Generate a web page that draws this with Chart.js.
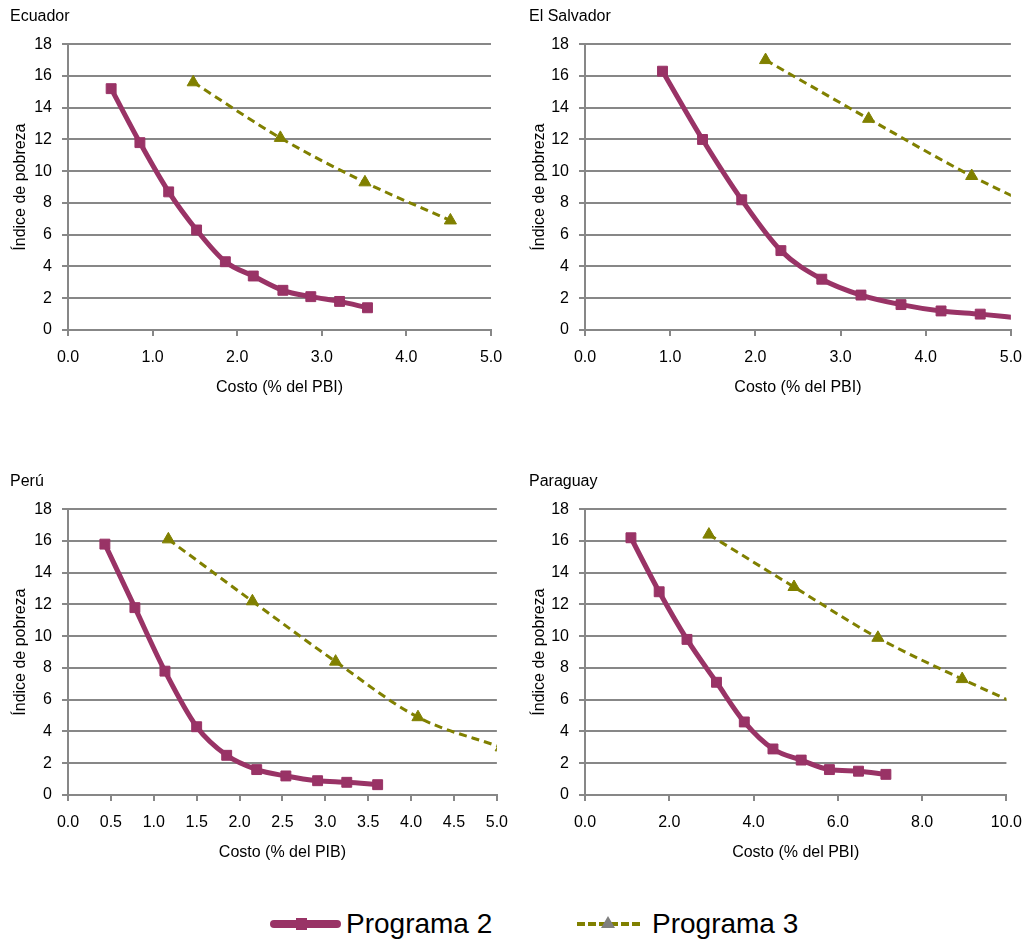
<!DOCTYPE html>
<html>
<head>
<meta charset="utf-8">
<script src="https://cdn.jsdelivr.net/npm/chart.js@4.4.1/dist/chart.umd.min.js"></script>
<style>
  body { margin: 0; background: #fff; width: 1036px; height: 944px; overflow: hidden; position: relative;
         font-family: 'Liberation Sans', Arial, sans-serif; }
  canvas { position: absolute; }
  .legend { position: absolute; top: 905px; left: 0; height: 38px; font-size: 28px; color: #000; }
  .item { position: absolute; top: 0; height: 38px; line-height: 38px; white-space: nowrap; }
  .p2line { position: absolute; top: 15px; height: 8px; border-radius: 4px; background: #993366; }
  .p2mark { position: absolute; top: 13px; width: 11px; height: 12px; background: #993366; }
  .p3line { position: absolute; top: 17px; height: 0; border-top: 4px dashed #808000; }
  .p3mark { position: absolute; top: 11px; width: 0; height: 0; border-left: 7px solid transparent;
            border-right: 7px solid transparent; border-bottom: 12px solid #7f7f7f; }
</style>
</head>
<body>
<canvas id="ecuador" width="510" height="420" style="left:10px;top:0px"></canvas>
<canvas id="salvador" width="505" height="420" style="left:529px;top:0px"></canvas>
<canvas id="peru" width="510" height="420" style="left:10px;top:465px"></canvas>
<canvas id="paraguay" width="505" height="420" style="left:529px;top:465px"></canvas>

<div class="legend">
  <div class="p2line" style="left:270px;width:71px"></div>
  <div class="p2mark" style="left:296px"></div>
  <div class="item" style="left:346px">Programa 2</div>
  <div class="p3line" style="left:577px;width:63px"></div>
  <div class="p3mark" style="left:601px"></div>
  <div class="item" style="left:652px">Programa 3</div>
</div>

<script>
'use strict'

// y axis ticks shared by all four panels
const yTicks = [0, 2, 4, 6, 8, 10, 12, 14, 16, 18]

// x axis tick labels
const xTicksUnit = [0, 1, 2, 3, 4, 5]
const xTicksHalf = [0, 0.5, 1, 1.5, 2, 2.5, 3, 3.5, 4, 4.5, 5]
const xTicksTwo = [0, 2, 4, 6, 8, 10]

// ECUADOR
const ecuP2x = [0.51, 0.85, 1.19, 1.52, 1.86, 2.19, 2.54, 2.87, 3.21, 3.54]
const ecuP2y = [15.2, 11.8, 8.7, 6.3, 4.3, 3.4, 2.5, 2.1, 1.8, 1.4]
const ecuP3x = [1.48, 2.51, 3.51, 4.52]
const ecuP3y = [15.6, 12.1, 9.3, 6.9]

// EL SALVADOR
const slvP2x = [0.91, 1.38, 1.84, 2.30, 2.78, 3.24, 3.71, 4.18, 4.64, 5.11]
const slvP2y = [16.3, 12.0, 8.2, 5.0, 3.2, 2.2, 1.6, 1.2, 1.0, 0.75]
const slvP3x = [2.12, 3.33, 4.54, 5.75]
const slvP3y = [17.0, 13.3, 9.7, 6.6]

// PERU
const perP2x = [0.43, 0.78, 1.13, 1.50, 1.85, 2.20, 2.54, 2.91, 3.25, 3.61]
const perP2y = [15.8, 11.8, 7.8, 4.3, 2.5, 1.6, 1.2, 0.9, 0.8, 0.65]
const perP3x = [1.17, 2.15, 3.12, 4.08, 5.05]
const perP3y = [16.1, 12.2, 8.4, 4.9, 3.0]

// PARAGUAY
const parP2x = [1.09, 1.76, 2.42, 3.12, 3.78, 4.46, 5.13, 5.80, 6.49, 7.14]
const parP2y = [16.2, 12.8, 9.8, 7.1, 4.6, 2.9, 2.2, 1.6, 1.5, 1.3]
const parP3x = [2.94, 4.96, 6.95, 8.95, 10.95]
const parP3y = [16.4, 13.1, 9.9, 7.3, 4.9]

const purple = '#993366'
const olive = '#808000'
const gridGrey = '#878787'
const font = { family: "'Liberation Sans', Arial, sans-serif", size: 16, weight: 'normal' }

const toPoints = (xs, ys) => xs.map((x, i) => ({ x: x, y: ys[i] }))

function makeChart(id, title, xTitle, xTicks, p2x, p2y, p3x, p3y, yAxisW, padRight) {
  new Chart(document.getElementById(id), {
    type: 'line',
    data: {
      datasets: [
        {
          label: 'Programa 3',
          data: toPoints(p3x, p3y),
          borderColor: olive,
          backgroundColor: olive,
          borderWidth: 3,
          borderDash: [8, 5],
          cubicInterpolationMode: 'monotone',
          pointStyle: 'triangle',
          pointRadius: 7,
          pointBorderWidth: 1,
          clip: 0
        },
        {
          label: 'Programa 2',
          data: toPoints(p2x, p2y),
          borderColor: purple,
          backgroundColor: purple,
          borderWidth: 5,
          cubicInterpolationMode: 'monotone',
          pointStyle: 'rect',
          pointRadius: 7,
          pointBorderWidth: 1,
          clip: 0
        }
      ]
    },
    options: {
      responsive: false,
      animation: false,
      layout: { padding: { left: 0, right: padRight, top: 0, bottom: 0 } },
      plugins: {
        legend: { display: false },
        tooltip: { enabled: false },
        title: {
          display: true,
          text: title,
          align: 'start',
          color: '#000',
          font: font,
          padding: { top: 7, bottom: 18 }
        }
      },
      scales: {
        x: {
          type: 'linear',
          min: xTicks[0],
          max: xTicks[xTicks.length - 1],
          afterBuildTicks: s => { s.ticks = xTicks.map(v => ({ value: v })) },
          afterFit: s => { s.height = 90 },
          ticks: { color: '#000', font: font, padding: 12, maxRotation: 0, callback: v => v.toFixed(1) },
          grid: { drawOnChartArea: false, drawTicks: true, tickLength: 6, color: gridGrey, lineWidth: 2 },
          border: { color: gridGrey, width: 2 },
          title: { display: true, text: xTitle, color: '#000', font: font, padding: { top: 0, bottom: 23 } }
        },
        y: {
          min: 0,
          max: 18,
          afterBuildTicks: s => { s.ticks = yTicks.map(v => ({ value: v })) },
          afterFit: s => { s.width = yAxisW },
          ticks: { color: '#000', font: font, padding: 10 },
          grid: { drawTicks: true, tickLength: 6, color: gridGrey, lineWidth: 2 },
          border: { color: gridGrey, width: 2 },
          title: { display: true, text: 'Índice de pobreza', color: '#000', font: font, padding: { top: 1, bottom: 0 } }
        }
      }
    }
  })
}

makeChart('ecuador', 'Ecuador', 'Costo (% del PBI)', xTicksUnit, ecuP2x, ecuP2y, ecuP3x, ecuP3y, 58, 29)
makeChart('salvador', 'El Salvador', 'Costo (% del PBI)', xTicksUnit, slvP2x, slvP2y, slvP3x, slvP3y, 56, 16)
makeChart('peru', 'Perú', 'Costo (% del PIB)', xTicksHalf, perP2x, perP2y, perP3x, perP3y, 58, 23)
makeChart('paraguay', 'Paraguay', 'Costo (% del PBI)', xTicksTwo, parP2x, parP2y, parP3x, parP3y, 56, 20)
</script>
</body>
</html>
